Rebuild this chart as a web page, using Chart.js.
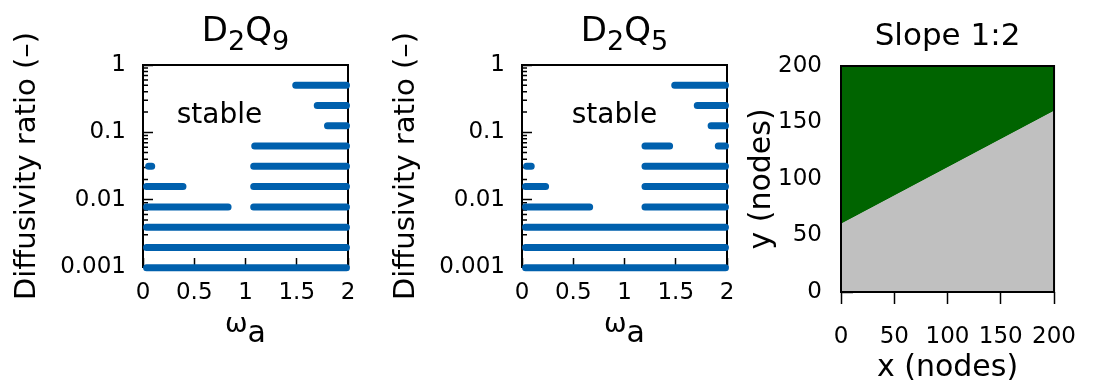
<!DOCTYPE html>
<html>
<head>
<meta charset="utf-8">
<script src="https://cdn.jsdelivr.net/npm/chart.js@4.4.1/dist/chart.umd.min.js"></script>
<style>
  html, body { margin: 0; padding: 0; background: #fff; }
  #wrap { position: relative; width: 1095px; height: 383px; overflow: hidden; }
  .panel { position: absolute; top: 0; height: 383px; }
</style>
</head>
<body>
<div id="wrap">
  <div class="panel" style="left:0;width:380px"><canvas id="d2q9"></canvas></div>
  <div class="panel" style="left:379px;width:380px"><canvas id="d2q5"></canvas></div>
  <div class="panel" style="left:730px;width:365px"><canvas id="slope"></canvas></div>
</div>
<script>
// diffusivity ratios tested (powers of two)
const levels = [0.5, 0.25, 0.125, 0.0625, 0.03125, 0.015625, 0.0078125, 0.00390625, 0.001953125, 0.0009765625];

// stable omega ranges, one entry per bar segment
const d2q9Level = [0.5, 0.25, 0.125, 0.0625, 0.03125, 0.03125, 0.015625, 0.015625, 0.0078125, 0.0078125, 0.00390625, 0.001953125, 0.0009765625];
const d2q9From  = [1.49, 1.70, 1.80, 1.09, 0.055, 1.08, 0.035, 1.08, 0.035, 1.08, 0.035, 0.035, 0.035];
const d2q9To    = [1.985, 1.985, 1.985, 1.985, 0.085, 1.985, 0.39, 1.985, 0.83, 1.985, 1.985, 1.985, 1.985];

const d2q5Level = [0.5, 0.25, 0.125, 0.0625, 0.0625, 0.03125, 0.03125, 0.015625, 0.015625, 0.0078125, 0.0078125, 0.00390625, 0.001953125, 0.0009765625];
const d2q5From  = [1.49, 1.71, 1.845, 1.20, 1.915, 0.045, 1.20, 0.035, 1.20, 0.035, 1.20, 0.035, 0.035, 0.035];
const d2q5To    = [1.985, 1.985, 1.985, 1.44, 1.985, 0.09, 1.985, 0.23, 1.985, 0.66, 1.985, 1.985, 1.985, 1.985];

const omegaTicks = [0, 0.5, 1, 1.5, 2];
const ratioTicks = [0.001, 0.01, 0.1, 1];

// slope 1:2 boundary
const slopeX = [0, 200];
const slopeY = [60, 160];
const nodeTicks = [0, 50, 100, 150, 200];

const blue = '#0060ad';
const FONT = '"DejaVu Sans"';

Chart.defaults.font.family = FONT;
Chart.defaults.color = '#000';

// box around the plot area
const frame = {
  id: 'frame',
  beforeDatasetsDraw(chart, args, opts) { if (!opts.over) drawFrame(chart); },
  afterDatasetsDraw(chart, args, opts) { if (opts.over) drawFrame(chart); }
};
function drawFrame(chart) {
  const { ctx, chartArea: a } = chart;
  ctx.save();
  ctx.strokeStyle = '#000';
  ctx.lineWidth = 2;
  ctx.strokeRect(a.left, a.top, a.right - a.left, a.bottom - a.top);
  ctx.restore();
}

// short inward minor ticks on the log axis
const logMinor = {
  id: 'logMinor',
  beforeDatasetsDraw(chart) {
    const { ctx, chartArea: a } = chart;
    const y = chart.scales.y;
    ctx.save();
    ctx.strokeStyle = '#000';
    ctx.lineWidth = 1.5;
    ctx.beginPath();
    for (let e = -3; e < 0; e++) {
      for (let m = 2; m < 10; m++) {
        const py = y.getPixelForValue(m * Math.pow(10, e));
        ctx.moveTo(a.left, py);
        ctx.lineTo(a.left + 5, py);
      }
    }
    ctx.stroke();
    ctx.restore();
  }
};

// text with subscripts (titles, omega_a, labels)
function richText(items) {
  return {
    id: 'richText',
    afterDraw(chart) {
      const { ctx, chartArea: a } = chart;
      const cx = (a.left + a.right) / 2;
      ctx.save();
      ctx.fillStyle = '#000';
      ctx.textAlign = 'left';
      ctx.textBaseline = 'alphabetic';
      items.forEach(item => {
        const widths = item.parts.map(p => {
          ctx.font = p.size + 'px ' + FONT;
          return ctx.measureText(p.t).width;
        });
        let x = cx + (item.dx || 0) - widths.reduce((s, w) => s + w, 0) / 2;
        item.parts.forEach((p, i) => {
          ctx.font = p.size + 'px ' + FONT;
          ctx.fillText(p.t, x, item.y + (p.dy || 0));
          x += widths[i];
        });
      });
      ctx.restore();
    }
  };
}

function segments(level, from, to) {
  const pts = [];
  for (let i = 0; i < level.length; i++) {
    pts.push({ x: from[i], y: level[i] }, { x: to[i], y: level[i] }, { x: to[i], y: null });
  }
  return pts;
}

function stabilityChart(id, level, from, to, sub, stableDx) {
  return new Chart(document.getElementById(id), {
    type: 'line',
    data: {
      datasets: [{
        data: segments(level, from, to),
        borderColor: blue,
        borderWidth: 7,
        borderCapStyle: 'round',
        pointRadius: 0,
        spanGaps: false,
        clip: false
      }]
    },
    options: {
      animation: false,
      responsive: true,
      maintainAspectRatio: false,
      layout: { padding: { left: 0, right: 32, top: 65, bottom: 0 } },
      plugins: {
        legend: { display: false },
        tooltip: { enabled: false },
        frame: { over: false }
      },
      scales: {
        x: {
          type: 'linear', min: 0, max: 2,
          afterBuildTicks: s => { s.ticks = omegaTicks.map(v => ({ value: v })); },
          afterFit: s => { s.height = 116; },
          border: { display: false },
          grid: { drawOnChartArea: false, tickLength: -9, tickWidth: 1.5, tickColor: '#000' },
          ticks: { padding: 21, font: { size: 23 }, maxRotation: 0, autoSkip: false, callback: v => String(v) }
        },
        y: {
          type: 'logarithmic', min: 0.001, max: 1,
          afterBuildTicks: s => { s.ticks = ratioTicks.map(v => ({ value: v })); },
          afterFit: s => { s.width = 143; },
          border: { display: false },
          grid: { drawOnChartArea: false, tickLength: -10, tickWidth: 1.5, tickColor: '#000' },
          ticks: { padding: 27, font: { size: 23 }, autoSkip: false, callback: v => String(v) },
          title: { display: true, text: 'Diffusivity ratio (–)', font: { size: 29 }, padding: { top: 10, bottom: 0 } }
        }
      }
    },
    plugins: [frame, logMinor, richText([
      { y: 41, parts: [{ t: 'D', size: 34 }, { t: '2', size: 27, dy: 9 }, { t: 'Q', size: 34 }, { t: sub, size: 27, dy: 9 }] },
      { y: 332, parts: [{ t: 'ω', size: 27 }, { t: 'a', size: 30, dy: 10 }] },
      { y: 123, dx: stableDx, parts: [{ t: 'stable', size: 28 }] }
    ])]
  });
}

stabilityChart('d2q9', d2q9Level, d2q9From, d2q9To, '9', -26);
stabilityChart('d2q5', d2q5Level, d2q5From, d2q5To, '5', -10);

const boundary = slopeX.map((x, i) => ({ x: x, y: slopeY[i] }));

new Chart(document.getElementById('slope'), {
  type: 'line',
  data: {
    datasets: [
      { data: boundary, fill: 'origin', backgroundColor: '#c0c0c0', borderColor: '#c0c0c0', borderWidth: 1, pointRadius: 0 },
      { data: boundary, fill: 'end', backgroundColor: '#006400', borderWidth: 0, pointRadius: 0 }
    ]
  },
  options: {
    animation: false,
    responsive: true,
    maintainAspectRatio: false,
    layout: { padding: { left: 0, right: 28, top: 66, bottom: 0 } },
    plugins: {
      legend: { display: false },
      tooltip: { enabled: false },
      frame: { over: true }
    },
    scales: {
      x: {
        type: 'linear', min: 0, max: 200, z: 1,
        afterBuildTicks: s => { s.ticks = nodeTicks.map(v => ({ value: v })); },
        afterFit: s => { s.height = 91; },
        border: { display: false },
        grid: { drawOnChartArea: false, tickLength: 12, tickWidth: 1.5, tickColor: '#000' },
        ticks: { padding: 19, font: { size: 23 }, maxRotation: 0, autoSkip: false },
        title: { display: true, text: 'x (nodes)', font: { size: 30, lineHeight: 1 }, padding: 0 }
      },
      y: {
        type: 'linear', min: 0, max: 200, z: 1,
        afterBuildTicks: s => { s.ticks = nodeTicks.map(v => ({ value: v })); },
        afterFit: s => { s.width = 111; },
        border: { display: false },
        grid: { drawOnChartArea: false, tickLength: -12, tickWidth: 1.5, tickColor: '#000' },
        ticks: { padding: 31, font: { size: 23 }, autoSkip: false },
        title: { display: true, text: 'y (nodes)', font: { size: 30 }, padding: { top: 14, bottom: 0 } }
      }
    }
  },
  plugins: [frame, richText([{ y: 45, parts: [{ t: 'Slope 1:2', size: 31 }] }])]
});
</script>
</body>
</html>
